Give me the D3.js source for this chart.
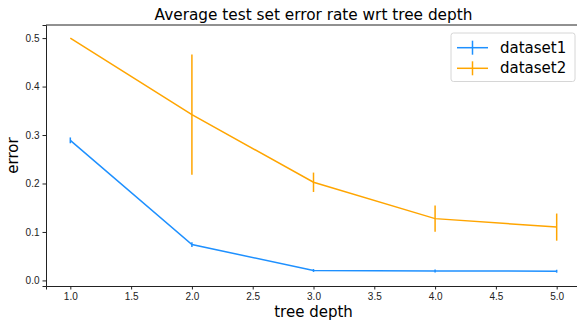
<!DOCTYPE html>
<html>
<head>
<meta charset="utf-8">
<script src="https://cdn.jsdelivr.net/npm/d3@7"></script>
<style>
    body { margin: 0; background: #fff; }
    svg { font-family: "DejaVu Sans", sans-serif; }
    .axis path, .axis line { stroke: #222; }
    .axis text { fill: #222; font-size: 10px; }
</style>
</head>
<body>
<div id="chart"></div>
<script>
// tree depths
let depths = [1, 2, 3, 4, 5];

// dataset1 mean error and error bar half-length
let dataset1 = [0.289, 0.074, 0.0205, 0.0195, 0.019];
let dataset1Err = [0.006, 0.005, 0.003, 0.003, 0.003];

// dataset2 mean error and error bar half-length
let dataset2 = [0.5, 0.342, 0.2025, 0.1275, 0.110];
let dataset2Err = [0, 0.124, 0.02, 0.027, 0.028];

let seriesNames = ["dataset1", "dataset2"];
let seriesColors = ["#1E90FF", "#FFA500"];

let xTicks = [1.0, 1.5, 2.0, 2.5, 3.0, 3.5, 4.0, 4.5, 5.0];
let yTicks = [0.0, 0.1, 0.2, 0.3, 0.4, 0.5];

let margin = {top: 25, right: -4, bottom: 35, left: 46};
let width = 577 - margin.left - margin.right;
let height = 321 - margin.top - margin.bottom;

let svg = d3.select("#chart").append("svg")
    .attr("width", 577)
    .attr("height", 321);

let g = svg.append("g")
    .attr("transform", "translate(" + margin.left + "," + margin.top + ")");

let x = d3.scaleLinear().domain([0.8, 5.2]).range([0, width]);
let y = d3.scaleLinear().domain([-0.0115, 0.527]).range([height, 0]);

// axes
g.append("g")
    .attr("class", "axis axis-x")
    .attr("transform", "translate(0," + height + ")")
    .call(d3.axisBottom(x).tickValues(xTicks).tickFormat(d3.format(".1f")).tickSizeOuter(0).tickSize(3.5).tickPadding(3));

g.append("g")
    .attr("class", "axis axis-y")
    .call(d3.axisLeft(y).tickValues(yTicks).tickFormat(d3.format(".1f")).tickSizeOuter(0).tickSize(3.5).tickPadding(3));

// top spine
g.append("line")
    .attr("x1", 0).attr("x2", width)
    .attr("y1", 0).attr("y2", 0)
    .attr("stroke", "#222");

let series = [
    {name: seriesNames[0], values: dataset1, err: dataset1Err, color: seriesColors[0]},
    {name: seriesNames[1], values: dataset2, err: dataset2Err, color: seriesColors[1]}
];

let line = d3.line()
    .x((d, i) => x(depths[i]))
    .y(d => y(d));

series.forEach(s => {
    g.append("path")
        .datum(s.values)
        .attr("fill", "none")
        .attr("stroke", s.color)
        .attr("stroke-width", 1.5)
        .attr("d", line);

    g.selectAll(null)
        .data(s.values)
        .enter()
        .append("line")
        .attr("x1", (d, i) => x(depths[i]))
        .attr("x2", (d, i) => x(depths[i]))
        .attr("y1", (d, i) => y(d - s.err[i]))
        .attr("y2", (d, i) => y(d + s.err[i]))
        .attr("stroke", s.color)
        .attr("stroke-width", 1.5);
});

// title
svg.append("text")
    .attr("x", margin.left + width / 2)
    .attr("y", 20)
    .attr("text-anchor", "middle")
    .style("font-size", "15.3px")
    .text("Average test set error rate wrt tree depth");

// axis labels
svg.append("text")
    .attr("x", margin.left + width / 2)
    .attr("y", 317)
    .attr("text-anchor", "middle")
    .style("font-size", "15px")
    .text("tree depth");

svg.append("text")
    .attr("transform", "rotate(-90)")
    .attr("x", -(margin.top + height / 2))
    .attr("y", 18)
    .attr("text-anchor", "middle")
    .style("font-size", "15px")
    .text("error");

// legend
let legend = svg.append("g").attr("transform", "translate(451,33)");
legend.append("rect")
    .attr("width", 124)
    .attr("height", 48.5)
    .attr("rx", 2.5)
    .attr("fill", "#fff")
    .attr("fill-opacity", 0.8)
    .attr("stroke", "#d6d6d6");

series.forEach((s, i) => {
    let row = legend.append("g").attr("transform", "translate(0," + (14.7 + i * 20.6) + ")");
    row.append("line")
        .attr("x1", 6).attr("x2", 37)
        .attr("y1", 0).attr("y2", 0)
        .attr("stroke", s.color).attr("stroke-width", 1.5);
    row.append("line")
        .attr("x1", 21.5).attr("x2", 21.5)
        .attr("y1", -7).attr("y2", 7)
        .attr("stroke", s.color).attr("stroke-width", 1.5);
    row.append("text")
        .attr("x", 49)
        .attr("y", 5)
        .style("font-size", "15px")
        .text(s.name);
});
</script>
</body>
</html>
